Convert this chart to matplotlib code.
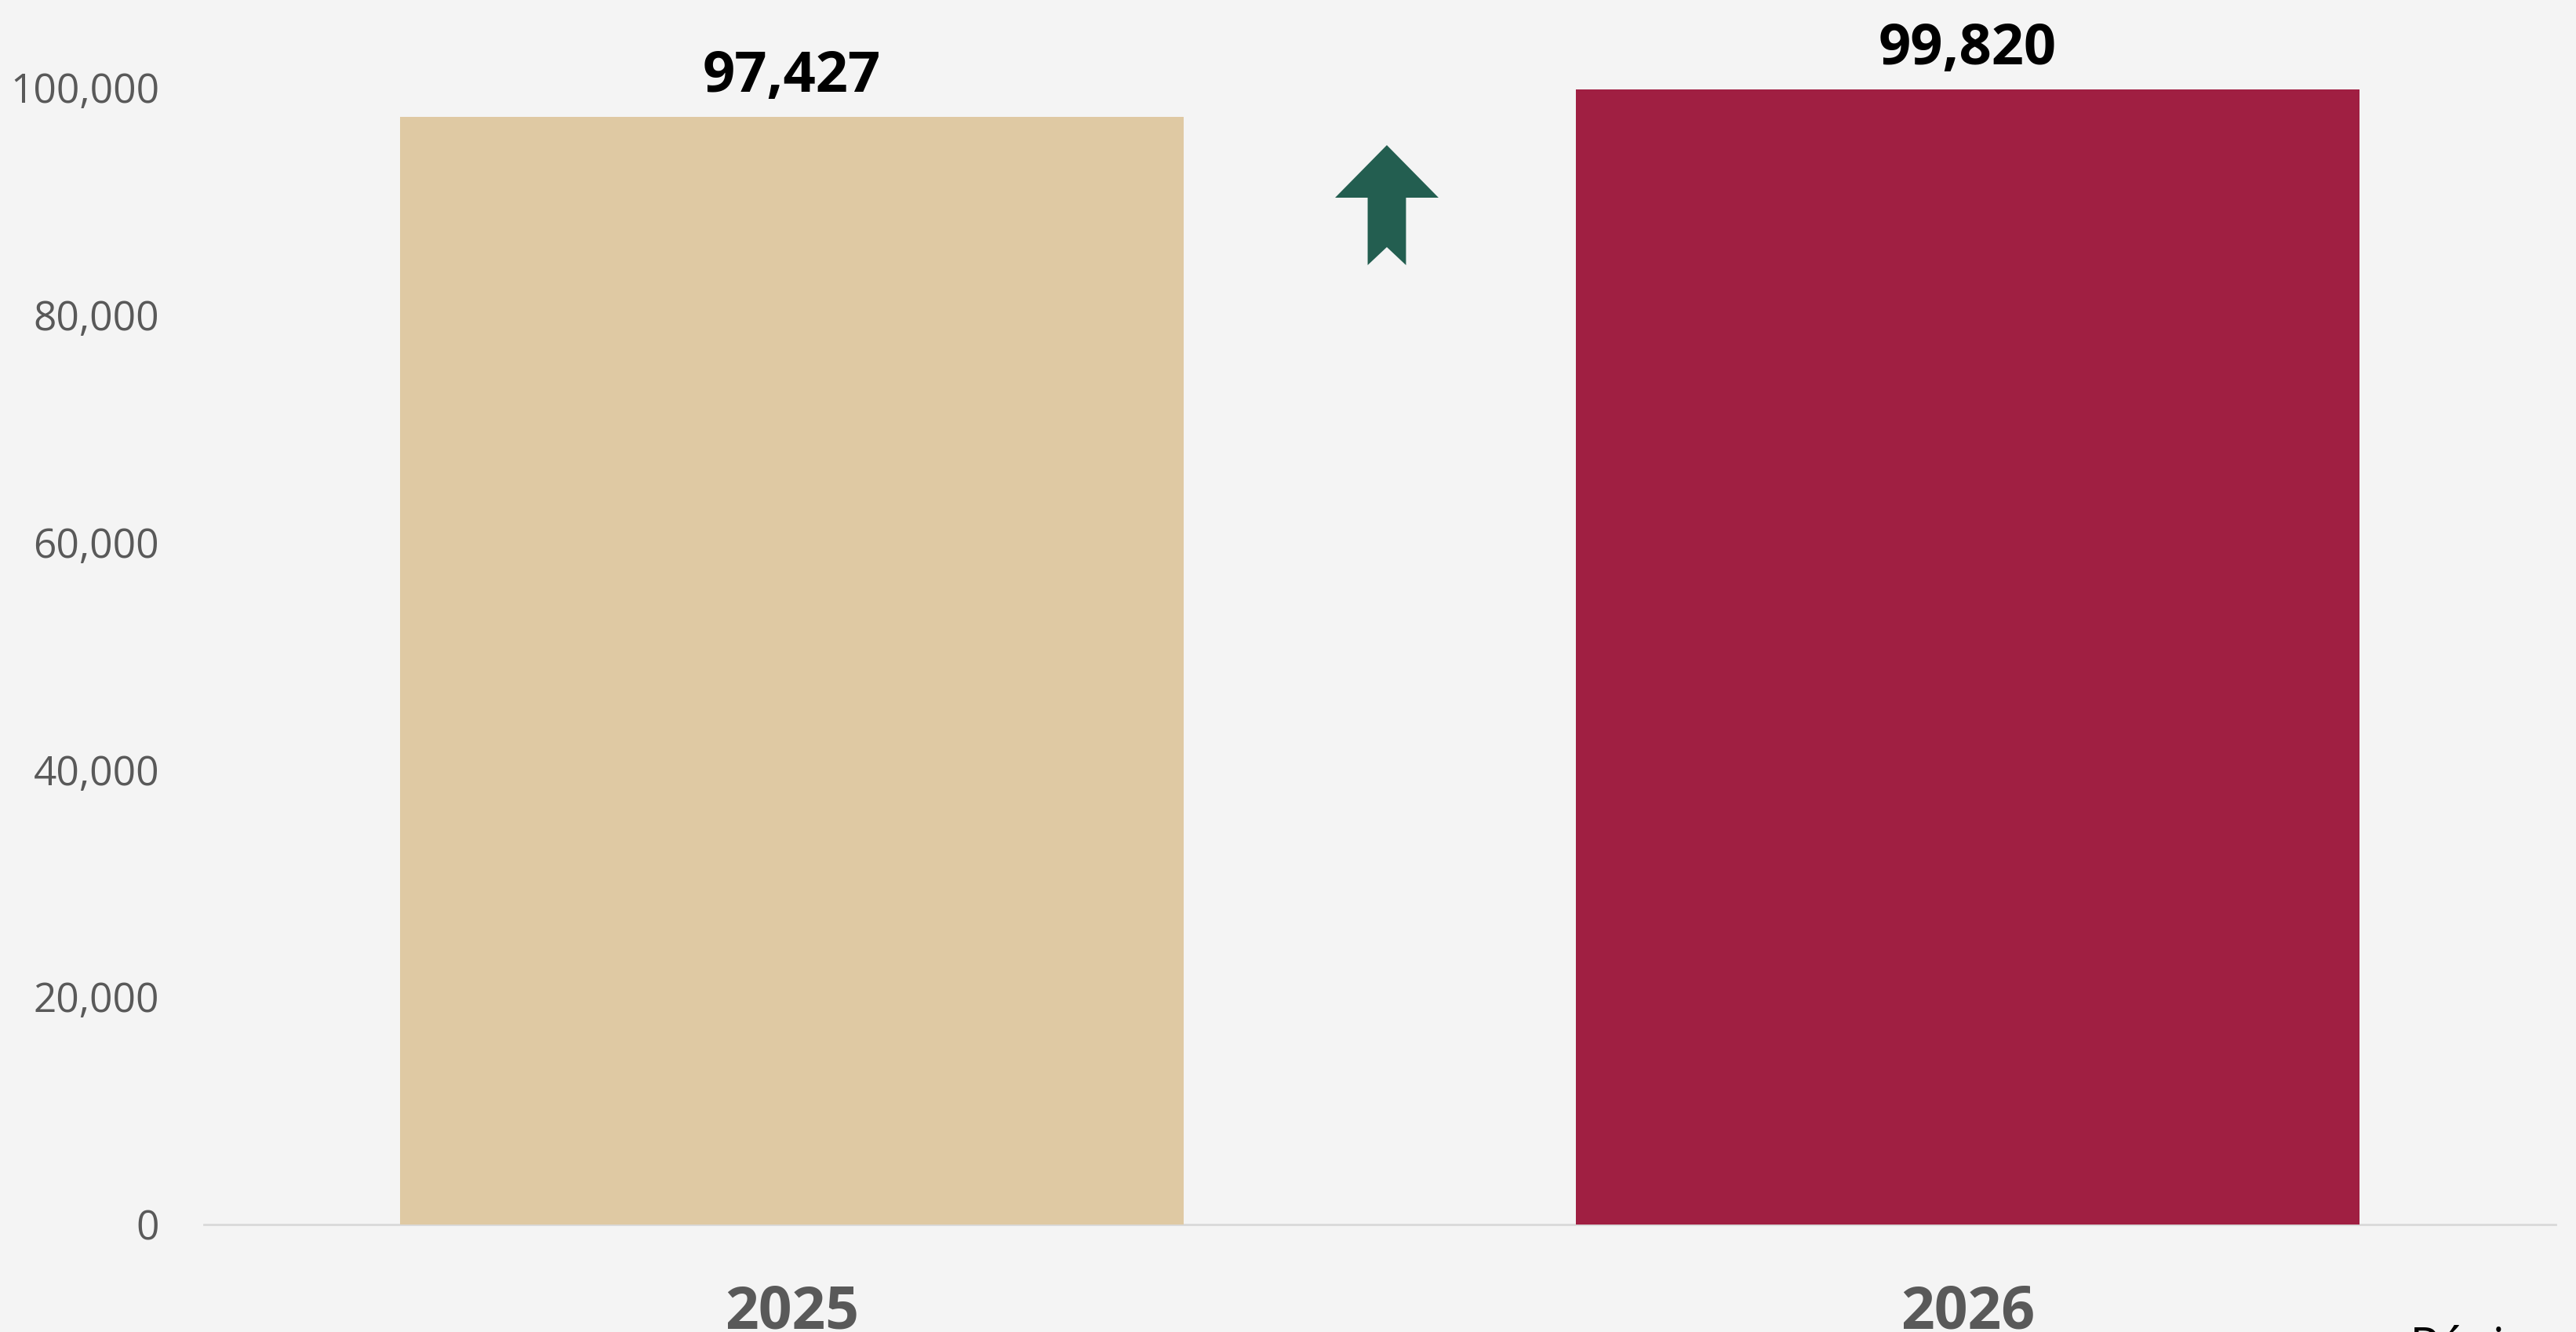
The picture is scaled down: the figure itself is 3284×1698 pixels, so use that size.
import matplotlib
matplotlib.use("Agg")
import matplotlib.pyplot as plt
from matplotlib.patches import Polygon
from matplotlib.ticker import FuncFormatter

# ---- data ----
years = ["2025", "2026"]
values = [97427, 99820]
value_labels = ["97,427", "99,820"]
bar_colors = ["#DFC9A3", "#A01F42"]
yticks = [0, 20000, 40000, 60000, 80000, 100000]

W, H = 3284, 1698
fig = plt.figure(figsize=(W / 100, H / 100), dpi=100)
bg = "#F4F4F4"
fig.patch.set_facecolor(bg)

# axes placement (pixels measured from reference)
left_px, right_px = 260, 3258
bottom_px = 1560.7
ymax = 105000
px_per_unit = 1449 / 100000
top_px = bottom_px - ymax * px_per_unit
ax = fig.add_axes([left_px / W, 1 - bottom_px / H,
                   (right_px - left_px) / W, (bottom_px - top_px) / H])
ax.set_facecolor("none")

x = list(range(len(years)))
bars = ax.bar(x, values, width=0.667, color=bar_colors, zorder=3)
ax.set_xlim(-0.5, 1.5)
ax.set_ylim(0, ymax)

# spines
for s in ["top", "right", "left"]:
    ax.spines[s].set_visible(False)
ax.spines["bottom"].set_color("#D9D9D9")
ax.spines["bottom"].set_linewidth(2)
ax.spines["bottom"].set_zorder(2)

ax.set_yticks(yticks)
ax.yaxis.set_major_formatter(FuncFormatter(lambda v, p: f"{int(v):,}"))
ax.tick_params(axis="y", length=0, pad=41, labelsize=37, labelcolor="#595959")
for lab in ax.get_yticklabels():
    lab.set_family("Open Sans")

ax.set_xticks(x)
ax.set_xticklabels([])
ax.tick_params(axis="x", length=0)

# year labels under bars (reference crops them at the bottom edge)
for xi, yr in zip(x, years):
    ax.annotate(yr, xy=(xi, 0), xycoords=("data", "axes fraction"),
                xytext=(0, -(1694 - bottom_px) * 0.72), textcoords="offset points",
                ha="center", va="baseline", fontsize=54, fontweight="bold",
                family="Open Sans", color="#595959", annotation_clip=False)

# value labels
for xi, v, lbl in zip(x, values, value_labels):
    ax.annotate(lbl, xy=(xi, v), xytext=(0, 23), textcoords="offset points",
                ha="center", va="baseline", fontsize=52, fontweight="bold",
                family="Open Sans", color="black")

# up arrow decoration (between bars)
cx = 0.506
hw_head = 0.044
hw_shaft = 0.0163
tip, head_base, bottom, notch = 94940, 90317, 84382, 85970
arrow = Polygon([(cx, tip), (cx + hw_head, head_base), (cx + hw_shaft, head_base),
                 (cx + hw_shaft, bottom), (cx, notch), (cx - hw_shaft, bottom),
                 (cx - hw_shaft, head_base), (cx - hw_head, head_base)],
                closed=True, facecolor="#235E50", edgecolor="none", zorder=4)
ax.add_patch(arrow)

# page text at bottom right, mostly below the edge as in the reference
fig.text(3072 / W, 1 - 1737 / H, "Página", ha="left", va="baseline",
         fontsize=45, family="Open Sans", color="black")

fig.savefig("out.png", dpi=100, facecolor=bg)
